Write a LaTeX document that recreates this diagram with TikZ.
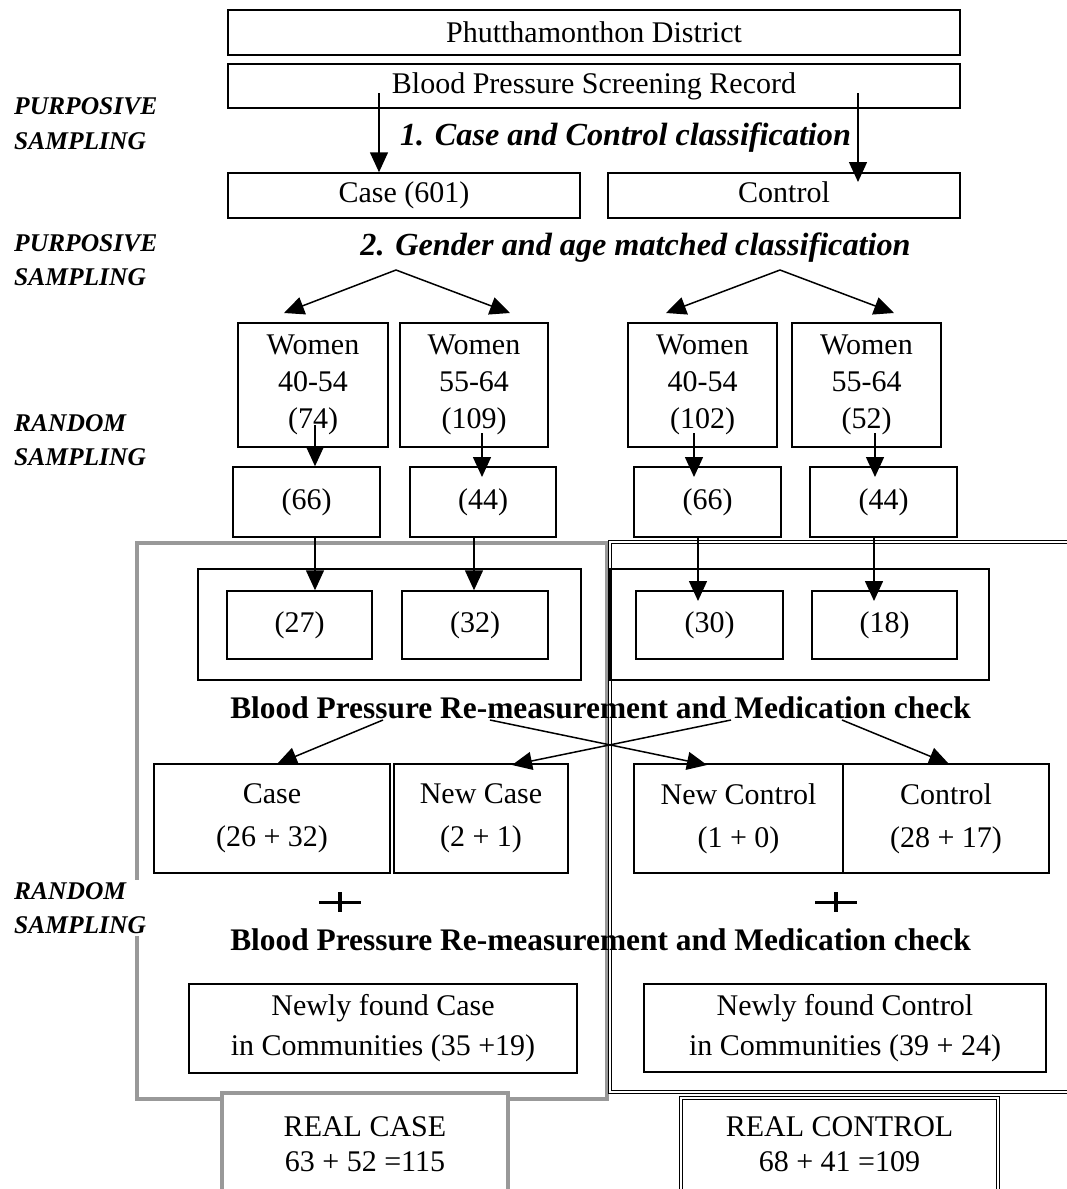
\documentclass[tikz,border=0pt]{standalone}
\usepackage{fontspec}
\setmainfont{Liberation Serif}
\usetikzlibrary{arrows.meta}
\definecolor{frgray}{RGB}{153,153,153}
\newcommand\myreg{\fontsize{30}{37}\selectfont}
\newcommand\mybold{\fontsize{31.4}{37}\selectfont\bfseries}
\newcommand\mybi{\fontsize{32.2}{38}\selectfont\bfseries\itshape}
\newcommand\mylab{\fontsize{25.5}{34.5}\selectfont\bfseries\itshape}
\begin{document}
\begin{tikzpicture}[x=1pt,y=-1pt,
  box/.style={draw, line width=1.5pt, inner sep=0pt, align=center, font=\myreg},
  arr/.style={line width=1.5pt, -{Triangle[length=20pt,width=18pt]}},
  grayframe/.style={draw=frgray, line width=4pt},
  dbl/.style={draw, line width=1.1pt, double=white, double distance=2.4pt},
  lab/.style={font=\mylab, align=left, anchor=west, inner sep=2pt, fill=white},
  heading/.style={inner sep=0pt},
  plusbar/.style={line width=3pt},
  plusstem/.style={line width=4.5pt}
]
\useasboundingbox[fill=white] (0,0) rectangle (1067,1189);

% ---- big frames
\draw[grayframe] (137,543) rectangle (607,1099);
\draw[dbl] (1085,542) -| (610,1092) -- (1085,1092);

% ---- top
\node[box, minimum width=732pt, minimum height=45pt] (district) at (594,32.5) {Phutthamonthon District};
\node[box, minimum width=732pt, minimum height=44pt] (record) at (594,86) {Blood Pressure Screening Record};
\node[box, minimum width=352pt, minimum height=45pt] (case601) at (404,195.5) {Case (601)};
\node[box, minimum width=352pt, minimum height=45pt] (control1) at (784,195.5) {Control\vphantom{(}};

\node[heading, font=\mybi] (t1) at (625.5,138) {1. Case and Control classification};
\coordinate (r1) at (379,93);
\coordinate (r2) at (858,93);
\coordinate (c2) at (858,182);
\draw[arr] (r1) -- (r1 |- case601.north);
\draw[arr] (r2) -- (c2);

\node[heading, font=\mybi] (t2) at (635.5,248) {2. Gender and age matched classification};

% ---- women boxes
\node[box, minimum width=150pt, minimum height=124pt] (w1) at (313,385) {Women\\40-54\\(74)};
\node[box, minimum width=148pt, minimum height=124pt] (w2) at (474,385) {Women\\55-64\\(109)};
\node[box, minimum width=149pt, minimum height=124pt] (w3) at (702.5,385) {Women\\40-54\\(102)};
\node[box, minimum width=149pt, minimum height=124pt] (w4) at (866.5,385) {Women\\55-64\\(52)};

\coordinate (g1) at (396,270);
\coordinate (g2) at (780,270);
\coordinate (g1a) at (284,313);
\coordinate (g1b) at (510,313);
\coordinate (g2a) at (666,313);
\coordinate (g2b) at (894,313);
\draw[arr] (g1) -- (g1a);
\draw[arr] (g1) -- (g1b);
\draw[arr] (g2) -- (g2a);
\draw[arr] (g2) -- (g2b);

% ---- small boxes
\node[box, minimum width=147pt, minimum height=70pt] (s1) at (306.5,502) {(66)};
\node[box, minimum width=146pt, minimum height=70pt] (s2) at (483,502) {(44)};
\node[box, minimum width=147pt, minimum height=70pt] (s3) at (707.5,502) {(66)};
\node[box, minimum width=147pt, minimum height=70pt] (s4) at (883.5,502) {(44)};

\coordinate (wa1) at (315,425);
\coordinate (wa2) at (482,433);
\coordinate (wa3) at (694,433);
\coordinate (wa4) at (875,433);
\coordinate (wb2) at (482,477);
\coordinate (wb3) at (694,477);
\coordinate (wb4) at (875,477);
\draw[arr] (wa1) -- (wa1 |- s1.north);
\draw[arr] (wa2) -- (wb2);
\draw[arr] (wa3) -- (wb3);
\draw[arr] (wa4) -- (wb4);

% ---- inner frames
\node[box, minimum width=383pt, minimum height=111pt] (innerL) at (389.5,624.5) {};
\node[box, minimum width=379pt, minimum height=111pt] (innerR) at (799.5,624.5) {};
\node[box, minimum width=145pt, minimum height=68pt] (b27) at (299.5,625) {(27)};
\node[box, minimum width=146pt, minimum height=68pt] (b32) at (475,625) {(32)};
\node[box, minimum width=147pt, minimum height=68pt] (b30) at (709.5,625) {(30)};
\node[box, minimum width=145pt, minimum height=68pt] (b18) at (884.5,625) {(18)};

\coordinate (sa1) at (315,537);
\coordinate (sa2) at (474,537);
\coordinate (sa3) at (698,537);
\coordinate (sa4) at (874,537);
\coordinate (sb3) at (698,601);
\coordinate (sb4) at (874,601);
\draw[arr] (sa1) -- (sa1 |- b27.north);
\draw[arr] (sa2) -- (sa2 |- b32.north);
\draw[arr] (sa3) -- (sb3);
\draw[arr] (sa4) -- (sb4);

% ---- re-measurement 1
\node[heading, font=\mybold] (bp1) at (600.5,708) {Blood Pressure Re-measurement and Medication check};

\node[box, minimum width=236pt, minimum height=109pt, font=\fontsize{30}{43}\selectfont] (case2) at (272,818.5) {Case\\(26 + 32)};
\node[box, minimum width=174pt, minimum height=109pt, font=\fontsize{30}{43}\selectfont] (newcase) at (481,818.5) {New Case\\(2 + 1)};
\node[box, minimum width=209pt, minimum height=109pt, font=\fontsize{30}{43}\selectfont] (newcontrol) at (738.5,818.5) {New Control\\(1 + 0)};
\node[box, minimum width=206pt, minimum height=109pt, font=\fontsize{30}{43}\selectfont] (control2) at (946,818.5) {Control\\(28 + 17)};

\coordinate (x1) at (383,720);
\coordinate (x2) at (490,720);
\coordinate (x3) at (731,720);
\coordinate (x4) at (842,720);
\coordinate (y1) at (277,764);
\coordinate (y2) at (512,765);
\coordinate (y3) at (707,765);
\coordinate (y4) at (949,764);
\draw[arr] (x1) -- (y1);
\draw[arr] (x3) -- (y2);
\draw[arr] (x2) -- (y3);
\draw[arr] (x4) -- (y4);

% ---- plus signs
\draw[plusbar] (319,902) -- (361,902);
\draw[plusstem] (340,892) -- (340,912);
\draw[plusbar] (815,902) -- (857,902);
\draw[plusstem] (836,892) -- (836,912);

\node[heading, font=\mybold] (bp2) at (600.5,940) {Blood Pressure Re-measurement and Medication check};

\node[box, minimum width=388pt, minimum height=89pt, font=\fontsize{30}{40}\selectfont] (nfcase) at (383,1028.5) {Newly found Case\\in Communities (35 +19)};
\node[box, minimum width=402pt, minimum height=88pt, font=\fontsize{30}{40}\selectfont] (nfcontrol) at (845,1028) {Newly found Control\\in Communities (39 + 24)};

% ---- real boxes
\draw[grayframe, fill=white] (222,1200) |- (508,1093) -- (508,1200);
\draw[dbl, fill=white] (681,1200) |- (998,1098) -- (998,1200);
\node[heading, align=center, font=\fontsize{30}{35}\selectfont] (realcase) at (365,1144.5) {REAL CASE\\63 + 52 =115};
\node[heading, align=center, font=\fontsize{30}{35}\selectfont] (realcontrol) at (839.5,1144.5) {REAL CONTROL\\68 + 41 =109};

% ---- left labels
\node[lab] (l1) at (12,123.5) {PURPOSIVE\\SAMPLING};
\node[lab] (l2) at (12,260) {PURPOSIVE\\SAMPLING};
\node[lab] (l3) at (12,440) {RANDOM\\SAMPLING};
\node[lab] (l4) at (12,908) {RANDOM\\SAMPLING};
\end{tikzpicture}
\end{document}
